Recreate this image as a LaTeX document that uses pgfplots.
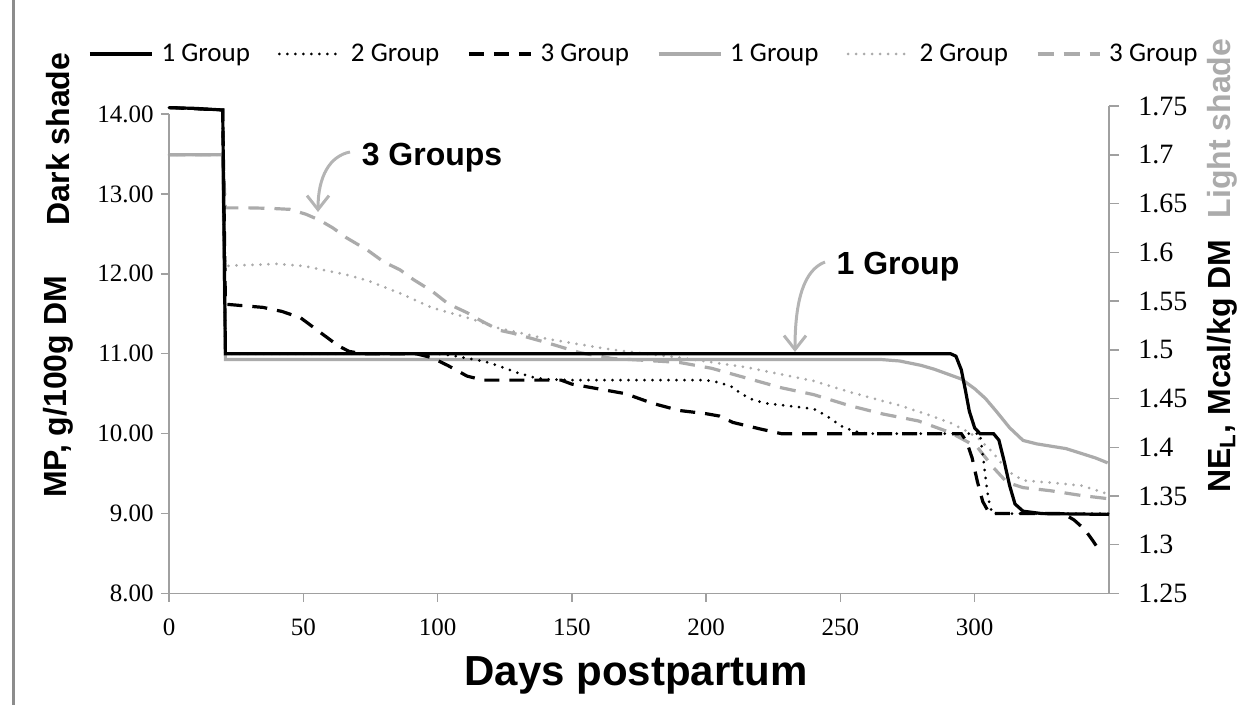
\documentclass[border=0pt]{standalone}
\usepackage{pgfplots}
\pgfplotsset{compat=1.18}
\usepackage{pgfplotstable}
\usepackage{fontspec}
\setmainfont{Liberation Serif}
\newfontfamily\arial{Liberation Sans}
\newfontfamily\calib{Carlito}
\usetikzlibrary{arrows.meta}
\definecolor{lg}{HTML}{ABABAB}
\definecolor{axgray}{HTML}{A0A0A0}
\definecolor{arrgray}{HTML}{B4B4B4}
\definecolor{framegray}{HTML}{8C8C8C}

\pgfplotstableread{
d v
0 14.08
10 14.07
20 14.05
21 11.00
100 11.00
200 11.00
291 11.00
293 10.97
295 10.80
296.5 10.55
298 10.28
300 10.07
302 10.00
307 10.00
309 9.92
311 9.65
313 9.35
315 9.12
318 9.03
325 9.00
350 8.99
}\bone

\pgfplotstableread{
d v
0 14.08
20 14.05
21 11.00
100 11.00
105 10.98
110 10.95
115 10.92
120 10.88
125 10.82
130 10.76
135 10.71
140 10.68
150 10.67
200 10.67
205 10.64
210 10.58
213 10.50
217 10.43
222 10.38
230 10.35
240 10.31
245 10.22
250 10.10
255 10.03
260 10.00
302 10.00
303.5 9.60
305 9.20
306.5 9.00
350 9.00
}\btwo

\pgfplotstableread{
d v
0 14.08
20 14.05
21 11.62
35 11.58
42 11.53
49 11.45
55 11.30
59 11.20
63 11.10
67 11.03
72 11.00
92 11.00
98 10.95
104 10.85
111 10.72
117 10.67
146 10.67
150 10.62
160 10.56
170 10.50
180 10.38
190 10.29
200 10.25
205 10.22
210 10.14
220 10.06
228 10.00
295 10.00
297 9.90
299 9.70
301 9.40
303 9.15
305.5 9.00
333 9.00
337 8.92
341 8.80
344 8.66
346 8.56
}\bthree

\pgfplotstableread{
d v
0 1.70
20 1.70
21 1.49
100 1.49
200 1.49
265 1.49
272 1.4885
280 1.484
285 1.480
290 1.475
295 1.470
300 1.460
304 1.450
308 1.437
313 1.420
318 1.407
323 1.4035
334 1.3986
340 1.3934
345 1.389
349.5 1.384
}\gone

\pgfplotstableread{
d v
0 1.70
20 1.70
21 1.586
30 1.587
40 1.588
50 1.586
59 1.581
66 1.577
74 1.571
86 1.558
98 1.543
111 1.533
123 1.522
141 1.511
165 1.500
190 1.492
215 1.482
240 1.468
253 1.457
265 1.448
272 1.443
283 1.433
291 1.425
296 1.418
301 1.410
307 1.394
312 1.376
318 1.366
328 1.3637
340 1.3607
349.5 1.352
}\gtwo

\pgfplotstableread{
d v
0 1.70
20 1.70
21 1.6455
30 1.6455
38 1.645
45 1.644
51 1.639
56 1.633
61 1.625
66 1.615
74 1.602
80 1.590
86 1.582
91 1.572
98 1.560
104 1.547
111 1.538
116 1.530
123 1.520
128 1.517
141 1.507
153 1.497
165 1.491
178 1.489
190 1.487
202 1.481
215 1.471
228 1.461
240 1.454
253 1.443
266 1.434
279 1.427
291 1.415
301 1.400
307 1.379
312 1.364
318 1.3586
328 1.3555
340 1.3504
349.5 1.3473
}\gthree

\tikzset{
  bsolid/.style={black, line width=1.6pt},
  bdot/.style={black, line width=1.5pt, line cap=round, dash pattern=on 0pt off 4pt},
  bdash/.style={black, line width=1.6pt, dash pattern=on 7.5pt off 5pt},
  gsolid/.style={lg, line width=1.6pt},
  gdot/.style={lg, line width=1.5pt, line cap=round, dash pattern=on 0pt off 4pt},
  gdash/.style={lg, line width=1.6pt, dash pattern=on 8pt off 5pt},
}

\begin{document}
\begin{tikzpicture}
\useasboundingbox (0,0) rectangle (622pt,-352.5pt);
\draw[framegray, line width=1.25pt] (6.75pt,0pt) -- (6.75pt,-352.5pt);

% right axis (light shade)
\begin{axis}[
  at={(84.5pt,-296.75pt)}, anchor=south west,
  scale only axis, width=470pt, height=243.75pt,
  xmin=0, xmax=350, ymin=1.25, ymax=1.75,
  axis x line=none, axis y line*=right,
  axis line style={axgray, line width=0.75pt},
  ytick={1.25,1.3,1.35,1.4,1.45,1.5,1.55,1.6,1.65,1.7,1.75},
  yticklabels={1.25,1.3,1.35,1.4,1.45,1.5,1.55,1.6,1.65,1.7,1.75},
  tick align=outside, major tick length=5pt,
  tick style={axgray, line width=0.75pt},
  yticklabel style={font=\fontsize{14}{16}\selectfont, anchor=west, inner sep=0pt, xshift=9.5pt},
  clip=false,
]
\addplot[gsolid] table[x=d,y=v] {\gone};
\addplot[gdot] table[x=d,y=v] {\gtwo};
\addplot[gdash] table[x=d,y=v] {\gthree};
\end{axis}

% left axis (dark shade)
\begin{axis}[
  at={(84.5pt,-296.75pt)}, anchor=south west,
  scale only axis, width=470pt, height=239.75pt,
  xmin=0, xmax=350, ymin=8, ymax=14,
  axis x line*=bottom, axis y line*=left,
  axis line style={axgray, line width=0.75pt},
  xtick={0,50,100,150,200,250,300},
  ytick={8,9,10,11,12,13,14},
  yticklabels={8.00,9.00,10.00,11.00,12.00,13.00,14.00},
  xticklabels={0,50,100,150,200,250,300},
  tick align=outside, major tick length=4pt,
  tick style={axgray, line width=0.75pt},
  yticklabel style={font=\fontsize{12.5}{14}\selectfont, anchor=east, inner sep=0pt, xshift=-3.5pt},
  xticklabel style={font=\fontsize{12.5}{14}\selectfont, anchor=north, inner sep=0pt, yshift=-8.5pt},
  clip=false,
  legend columns=6,
  legend style={draw=none, fill=none, at={(0.5,1)}, anchor=center, xshift=3pt, yshift=30pt,
    font=\calib\fontsize{13.5}{15}\selectfont,
    /tikz/every even column/.append style={column sep=12pt}},
  legend image code/.code={\draw[#1] (0pt,0pt) -- (31pt,0pt); \path (33pt,0pt);},
]
\addplot[bsolid] table[x=d,y=v] {\bone};
\addplot[bdot] table[x=d,y=v] {\btwo};
\addplot[bdash] table[x=d,y=v] {\bthree};
\addlegendimage{gsolid}
\addlegendimage{gdot}
\addlegendimage{gdash}
\legend{1 Group, 2 Group, 3 Group, 1 Group, 2 Group, 3 Group}
\end{axis}

% axis titles
\node[rotate=90, font=\arial\bfseries\fontsize{16}{19}\selectfont] at (29pt,-193.5pt) {MP, g/100g DM};
\node[rotate=90, font=\arial\bfseries\fontsize{16}{19}\selectfont] at (29pt,-69.5pt) {Dark shade};
\node[rotate=90, font=\arial\bfseries\fontsize{16}{19}\selectfont] at (611pt,-183pt) {NE\textsubscript{L}, Mcal/kg DM};
\node[rotate=90, font=\arial\bfseries\fontsize{16}{19}\selectfont, text=lg] at (611pt,-64.25pt) {Light shade};
\node[font=\arial\bfseries\fontsize{21}{25}\selectfont] at (318pt,-337.5pt) {Days postpartum};

% annotations
\node[font=\arial\bfseries\fontsize{16}{19}\selectfont] at (216pt,-79pt) {3 Groups};
\node[font=\arial\bfseries\fontsize{16}{19}\selectfont] at (449pt,-133.5pt) {1 Group};
\draw[arrgray, line width=1.5pt, -{Straight Barb[length=7pt, width=11pt]}] (175pt,-76pt) .. controls (165pt,-78pt) and (159pt,-88pt) .. (159pt,-106pt);
\draw[arrgray, line width=1.5pt, -{Straight Barb[length=7pt, width=11pt]}] (412.5pt,-131pt) .. controls (402pt,-135pt) and (397.5pt,-150pt) .. (397.5pt,-176pt);
\end{tikzpicture}
\end{document}
